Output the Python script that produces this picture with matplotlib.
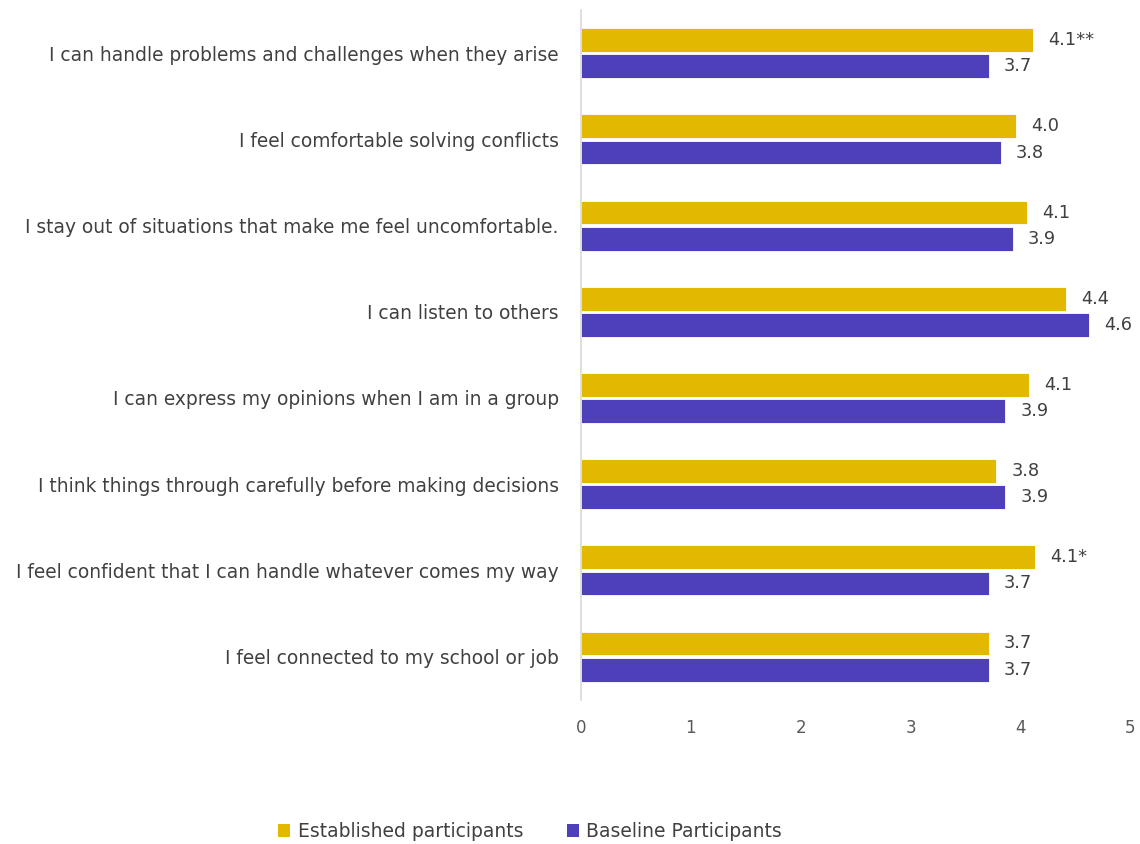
import matplotlib
matplotlib.use("Agg")
import matplotlib.pyplot as plt
import numpy as np
from matplotlib.patches import Patch

# survey items, top to bottom
items = [
    "I can handle problems and challenges when they arise",
    "I feel comfortable solving conflicts",
    "I stay out of situations that make me feel uncomfortable.",
    "I can listen to others",
    "I can express my opinions when I am in a group",
    "I think things through carefully before making decisions",
    "I feel confident that I can handle whatever comes my way",
    "I feel connected to my school or job",
]

# bar lengths
established = [4.11, 3.96, 4.06, 4.41, 4.08, 3.78, 4.13, 3.71]
baseline = [3.71, 3.82, 3.93, 4.62, 3.86, 3.86, 3.71, 3.71]

# printed labels
established_labels = ["4.1**", "4.0", "4.1", "4.4", "4.1", "3.8", "4.1*", "3.7"]
baseline_labels = ["3.7", "3.8", "3.9", "4.6", "3.9", "3.9", "3.7", "3.7"]

xticks = [0, 1, 2, 3, 4, 5]

GOLD = "#E2B900"
PURPLE = "#4E40B9"
TEXT = "#404040"
TICK = "#595959"

plt.rcParams["font.family"] = ["DejaVu Sans"]

fig = plt.figure(figsize=(11.4, 8.44), dpi=100)
ax = fig.add_axes([0.5096, 0.171, 0.482, 0.817])

y = np.arange(len(items))
h = 0.275
off = 0.152

bars_e = ax.barh(y - off, established, height=h, color=GOLD,
                 edgecolor="white", linewidth=0.6)
bars_b = ax.barh(y + off, baseline, height=h, color=PURPLE,
                 edgecolor="white", linewidth=0.6)

for bars, labels in ((bars_e, established_labels), (bars_b, baseline_labels)):
    for bar, lab in zip(bars, labels):
        ax.annotate(lab, (bar.get_width(), bar.get_y() + bar.get_height() / 2),
                    xytext=(11, 0), textcoords="offset points",
                    ha="left", va="center", fontsize=12.8, color=TEXT)

ax.set_xlim(0, 5)
ax.set_ylim(len(items) - 0.5, -0.5)
ax.set_xticks(xticks)
ax.set_xticklabels([str(t) for t in xticks], fontsize=12, color=TICK)
ax.set_yticks(y)
ax.set_yticklabels(items, fontsize=13.4, color=TEXT)
ax.tick_params(axis="both", length=0)
ax.tick_params(axis="x", pad=14)
ax.tick_params(axis="y", pad=16)

for s in ("top", "right", "bottom"):
    ax.spines[s].set_visible(False)
ax.spines["left"].set_color("#D9D9D9")
ax.spines["left"].set_linewidth(1.2)

handles = [Patch(facecolor=GOLD, label="Established participants"),
           Patch(facecolor=PURPLE, label="Baseline Participants")]
fig.legend(handles=handles, loc="center", bbox_to_anchor=(0.465, 0.015),
           ncol=2, frameon=False, fontsize=13.5, handlelength=0.65,
           handleheight=0.65, handletextpad=0.4, columnspacing=2.3,
           labelcolor=TEXT)

fig.savefig("out.png", dpi=100)
